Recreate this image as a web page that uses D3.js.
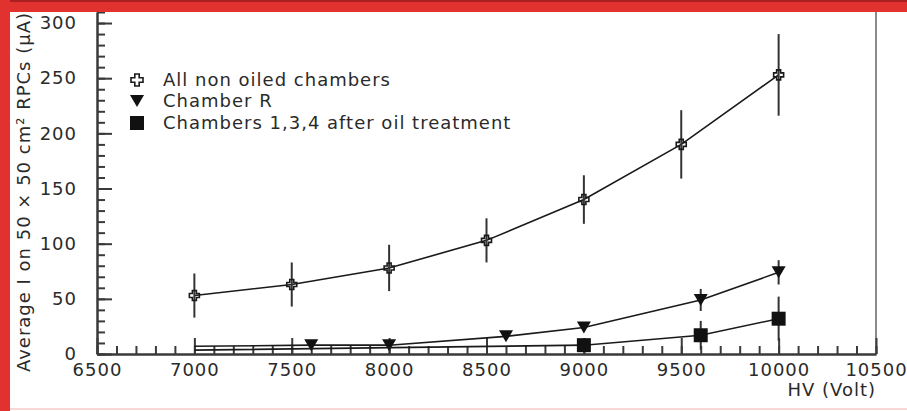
<!DOCTYPE html>
<html>
<head>
<meta charset="utf-8">
<script src="https://cdn.jsdelivr.net/npm/d3@7"></script>
<style>
  body { margin: 0; background: #fff; }
  svg text { font-family: "DejaVu Sans", sans-serif; font-size: 18px; fill: #2a2a2a; letter-spacing: 1px; }
  .axis path, .axis line { stroke: #3a3a3a; stroke-width: 2; }
</style>
</head>
<body>
<svg id="chart"></svg>
<script>
// HV settings (Volt) and average currents (uA)
const hvNonOiled = [7000, 7500, 8000, 8500, 9000, 9500, 10000];
const iNonOiled = [53, 63, 78, 103, 140, 190, 253];
const errNonOiled = [20, 20, 21, 20, 22, 31, 37];

const hvR = [7000, 7600, 8000, 8600, 9000, 9600, 10000];
const iR = [7, 8, 8, 16, 24, 49, 74];
const errR = [0, 0, 0, 0, 3, 10, 11];
const markR = [0, 1, 1, 1, 1, 1, 1];

const hvOiled = [7000, 9000, 9600, 10000];
const iOiled = [3.5, 8, 17, 32];
const errOiled = [0, 5, 13, 20];
const markOiled = [0, 1, 1, 1];

const xMajor = d3.range(6500, 10501, 500);
const xMinor = d3.range(6500, 10501, 100);
const yMajor = d3.range(0, 301, 50);
const yMinor = d3.range(0, 311, 10);

const legendLabels = ['All non oiled chambers', 'Chamber R', 'Chambers 1,3,4 after oil treatment'];

const W = 907, H = 411;
const svg = d3.select('#chart').attr('width', W).attr('height', H);

const x = d3.scaleLinear().domain([6500, 10500]).range([97, 876]);
const y = d3.scaleLinear().domain([0, 310]).range([354, 12]);

// frame on the right
svg.append('line')
    .attr('x1', 876).attr('x2', 876).attr('y1', 12).attr('y2', 354)
    .attr('stroke', '#8a8a8a').attr('stroke-width', 2);

// axes: minor ticks first, then major with labels
svg.append('g').attr('class', 'axis')
    .attr('transform', 'translate(0,354)')
    .call(d3.axisBottom(x).tickValues(xMinor).tickSize(-8).tickSizeOuter(0).tickFormat(''));
svg.append('g').attr('class', 'axis')
    .attr('transform', 'translate(0,354)')
    .call(d3.axisBottom(x).tickValues(xMajor).tickSize(-16).tickSizeOuter(0).tickPadding(9).tickFormat(d3.format('d')));

svg.append('g').attr('class', 'axis')
    .attr('transform', 'translate(97,0)')
    .call(d3.axisLeft(y).tickValues(yMinor).tickSize(-8).tickSizeOuter(0).tickFormat(''));
svg.append('g').attr('class', 'axis')
    .attr('transform', 'translate(97,0)')
    .call(d3.axisLeft(y).tickValues(yMajor).tickSize(-15).tickSizeOuter(0).tickPadding(20).tickFormat(d3.format('d')));

svg.selectAll('.axis text').attr('font-size', null).attr('font-family', null).attr('fill', null);

// axis titles
svg.append('text')
    .attr('text-anchor', 'end')
    .attr('transform', 'translate(30,12) rotate(-90)')
    .text('Average I on 50 × 50 cm² RPCs (μA)');

svg.append('text')
    .attr('text-anchor', 'end')
    .attr('x', 876).attr('y', 396)
    .text('HV (Volt)');

// markers
const crossPath = (h, a) => `M${-a},${-h}H${a}V${-a}H${h}V${a}H${a}V${h}H${-a}V${a}H${-h}V${-a}H${-a}Z`;
const triPath = (w, h) => `M${-w / 2},${-h / 2}H${w / 2}L0,${h / 2}Z`;

const line = d3.line().x(d => x(d[0])).y(d => y(d[1]));

function drawSeries(hv, cur, err, mark, shape) {
    const pts = hv.map((v, i) => ({ v, c: cur[i], e: err[i], m: mark ? mark[i] : 1 }));
    svg.append('path')
        .attr('d', line(pts.map(p => [p.v, p.c])))
        .attr('fill', 'none').attr('stroke', '#1a1a1a').attr('stroke-width', 1.6);
    svg.append('g').selectAll('line')
        .data(pts.filter(p => p.m && p.e > 0))
        .join('line')
        .attr('x1', p => x(p.v)).attr('x2', p => x(p.v))
        .attr('y1', p => y(p.c + p.e)).attr('y2', p => y(p.c - p.e))
        .attr('stroke', '#333').attr('stroke-width', 2);
    svg.append('g').selectAll('path')
        .data(pts.filter(p => p.m))
        .join('path')
        .attr('transform', p => `translate(${x(p.v)},${y(p.c)})`)
        .each(function () { shape(d3.select(this)); });
}

const openCross = (sel, h = 5, a = 2) => sel.attr('d', crossPath(h, a))
    .attr('fill', 'none').attr('stroke', '#1a1a1a').attr('stroke-width', 1.6);
const downTri = sel => sel.attr('d', triPath(14, 12)).attr('fill', '#111');
const square = sel => sel.attr('d', 'M-7,-7H7V7H-7Z').attr('fill', '#111');

drawSeries(hvNonOiled, iNonOiled, errNonOiled, null, s => openCross(s));
drawSeries(hvR, iR, errR, markR, downTri);
drawSeries(hvOiled, iOiled, errOiled, markOiled, square);

// legend
const legendY = [80, 101, 123];
const legendShapes = [s => openCross(s, 6, 2.2), downTri, square];
legendLabels.forEach((lab, i) => {
    const g = svg.append('g').attr('transform', `translate(137,${legendY[i]})`);
    legendShapes[i](g.append('path'));
    g.append('text').attr('x', 26).attr('dy', '0.36em').text(lab);
});

// red frame of the slide
svg.append('rect').attr('x', 0).attr('y', 0).attr('width', W).attr('height', 12).attr('fill', '#e2322f');
svg.append('rect').attr('x', 0).attr('y', 0).attr('width', W).attr('height', 2).attr('fill', '#a8201f');
svg.append('rect').attr('x', 0).attr('y', 0).attr('width', 10).attr('height', H).attr('fill', '#e2322f');
svg.append('line').attr('x1', 10).attr('x2', W).attr('y1', 409).attr('y2', 409)
    .attr('stroke', '#f6caca').attr('stroke-width', 1.5);
</script>
</body>
</html>
